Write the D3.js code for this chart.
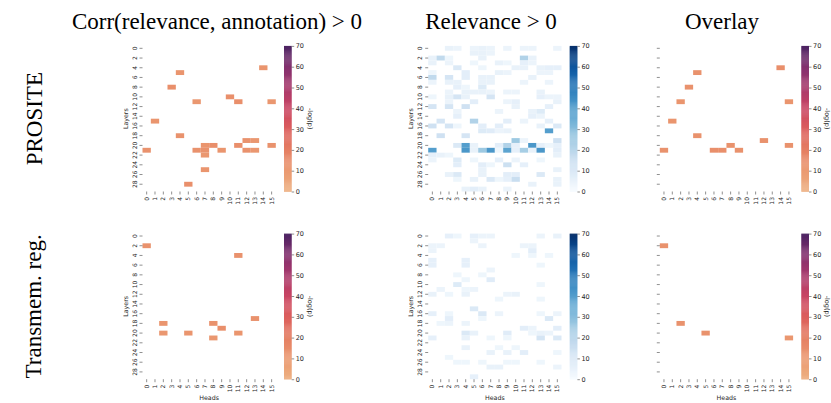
<!DOCTYPE html>
<html>
<head>
<meta charset="utf-8">
<script src="https://cdn.jsdelivr.net/npm/d3@7"></script>
<style>
  body { margin: 0; background: #fff; }
  svg text { fill: #262626; }
</style>
</head>
<body>
<svg id="fig" width="831" height="403"></svg>
<script>
'use strict';
// categories / tick labels
const heads = [0, 1, 2, 3, 4, 5, 6, 7, 8, 9, 10, 11, 12, 13, 14, 15];
const layers = [0, 1, 2, 3, 4, 5, 6, 7, 8, 9, 10, 11, 12, 13, 14, 15, 16, 17, 18, 19, 20, 21, 22, 23, 24, 25, 26, 27, 28, 29];
const layerTicks = [0, 2, 4, 6, 8, 10, 12, 14, 16, 18, 20, 22, 24, 26, 28];
const cbarTicks = [0, 10, 20, 30, 40, 50, 60, 70];
const colTitles = ['Corr(relevance, annotation) > 0', 'Relevance > 0', 'Overlay'];
const rowTitles = ['PROSITE', 'Transmem. reg.'];

// cells: [layer, head, -log(p)]
const prositeCorr = [
    [4, 14, 12], [5, 4, 12], [8, 3, 14], [10, 10, 14], [11, 6, 11], [11, 11, 14], [11, 15, 11],
    [15, 1, 12], [18, 4, 13], [19, 12, 13], [19, 13, 11], [20, 7, 12], [20, 8, 14], [20, 11, 14],
    [20, 15, 13], [21, 0, 13], [21, 6, 13], [21, 7, 13], [21, 9, 12], [21, 12, 13], [21, 13, 11],
    [22, 7, 11], [25, 7, 12], [28, 5, 14]
];
const prositeRel = [
    [0, 2, 5], [0, 3, 4], [0, 5, 4], [0, 6, 5], [0, 7, 4], [0, 9, 4], [0, 11, 4], [0, 12, 4], [0, 15, 4],
    [1, 5, 5], [1, 6, 5], [1, 7, 4],
    [2, 0, 5], [2, 1, 18], [2, 2, 3], [2, 6, 5], [2, 11, 22], [2, 12, 5],
    [3, 0, 5], [3, 2, 4], [3, 5, 3], [3, 8, 5], [3, 9, 3], [3, 11, 6], [3, 12, 4],
    [4, 3, 10], [4, 6, 3], [4, 10, 5], [4, 11, 5], [4, 13, 5], [4, 14, 6], [4, 15, 6],
    [5, 0, 3], [5, 4, 7], [5, 8, 5], [5, 9, 4], [5, 13, 4], [5, 14, 4],
    [6, 0, 18], [6, 2, 12], [6, 4, 7], [6, 6, 5], [6, 7, 5], [6, 12, 5],
    [7, 0, 4], [7, 2, 5], [7, 3, 5], [7, 6, 5], [7, 7, 5], [7, 11, 4], [7, 14, 4],
    [8, 3, 6], [8, 4, 3], [8, 6, 9],
    [9, 2, 4], [9, 4, 5], [9, 5, 5], [9, 6, 5], [9, 7, 4], [9, 9, 4], [9, 10, 4], [9, 13, 5],
    [10, 0, 3], [10, 2, 5], [10, 3, 12], [10, 4, 5], [10, 7, 12], [10, 13, 6], [10, 14, 4], [10, 15, 4],
    [11, 2, 4], [11, 5, 7], [11, 9, 4], [11, 10, 6], [11, 15, 5],
    [12, 0, 12], [12, 2, 12], [12, 4, 14], [12, 10, 5], [12, 14, 6],
    [13, 3, 4], [13, 8, 4], [13, 12, 5], [13, 13, 9],
    [14, 3, 6], [14, 12, 6], [14, 13, 4],
    [15, 1, 12], [15, 5, 22], [15, 9, 7], [15, 11, 4], [15, 14, 6],
    [16, 0, 14], [16, 2, 12], [16, 3, 3], [16, 6, 7], [16, 8, 7], [16, 13, 5], [16, 15, 10],
    [17, 6, 9], [17, 7, 8], [17, 8, 4], [17, 9, 5], [17, 14, 40],
    [18, 1, 14], [18, 4, 12],
    [19, 10, 26], [19, 11, 4], [19, 15, 14],
    [20, 3, 10], [20, 4, 40], [20, 5, 5], [20, 8, 7], [20, 9, 22], [20, 10, 6], [20, 12, 42], [20, 13, 6], [20, 14, 3], [20, 15, 6],
    [21, 0, 40], [21, 4, 42], [21, 5, 5], [21, 6, 26], [21, 7, 42], [21, 8, 3], [21, 9, 38], [21, 10, 6], [21, 11, 24], [21, 12, 5], [21, 13, 42], [21, 15, 7],
    [22, 0, 6], [22, 1, 5], [22, 2, 3], [22, 15, 5],
    [23, 0, 4], [23, 3, 9], [23, 5, 3], [23, 8, 6], [23, 10, 4], [23, 13, 3],
    [24, 3, 7], [24, 6, 7], [24, 7, 3], [24, 9, 15], [24, 11, 6],
    [25, 6, 5], [25, 15, 5],
    [26, 2, 5], [26, 3, 10], [26, 6, 5], [26, 9, 7], [26, 10, 7], [26, 13, 10],
    [27, 3, 3], [27, 5, 5], [27, 7, 10], [27, 8, 3], [27, 9, 6], [27, 10, 16], [27, 15, 5],
    [28, 12, 5], [28, 15, 5],
    [29, 4, 5], [29, 5, 7], [29, 6, 5], [29, 9, 4]
];
const prositeOverlay = [
    [4, 14, 14], [5, 4, 13], [8, 3, 13], [11, 2, 12], [11, 15, 12], [15, 1, 12], [18, 4, 13],
    [19, 12, 13], [20, 8, 13], [20, 15, 13], [21, 0, 13], [21, 6, 14], [21, 7, 14], [21, 9, 13]
];
const tmCorr = [
    [2, 0, 13], [4, 11, 13], [17, 13, 13], [18, 2, 12], [18, 8, 13], [19, 9, 14],
    [20, 2, 11], [20, 5, 12], [20, 11, 12], [21, 8, 11]
];
const tmRel = [
    [0, 2, 6], [0, 3, 3], [0, 5, 6], [0, 6, 4], [0, 7, 4], [0, 13, 4], [0, 15, 5],
    [1, 5, 4],
    [2, 0, 4], [2, 1, 4], [2, 6, 4], [2, 11, 4], [2, 12, 4],
    [3, 0, 4], [3, 12, 7],
    [4, 10, 3], [4, 12, 3], [4, 14, 3],
    [5, 0, 6], [5, 4, 6],
    [6, 0, 6], [6, 4, 6], [6, 13, 3],
    [7, 7, 4],
    [8, 3, 3], [8, 6, 3],
    [9, 4, 3], [9, 7, 8],
    [10, 3, 9], [10, 13, 3],
    [11, 1, 4], [11, 4, 3], [11, 5, 4],
    [12, 0, 5], [12, 2, 3], [12, 4, 5], [12, 9, 4], [12, 10, 5],
    [13, 8, 3], [13, 13, 3],
    [15, 5, 10],
    [16, 0, 6], [16, 2, 3], [16, 6, 10], [16, 8, 4], [16, 13, 3], [16, 15, 4],
    [17, 2, 7], [17, 6, 3], [17, 14, 10],
    [18, 1, 3], [18, 2, 4], [18, 4, 4],
    [19, 11, 7], [19, 12, 4], [19, 15, 7],
    [20, 4, 10], [20, 5, 5], [20, 9, 8], [20, 12, 3], [20, 13, 5], [20, 14, 4],
    [21, 0, 6], [21, 4, 5], [21, 7, 3], [21, 9, 3], [21, 13, 12], [21, 15, 10],
    [23, 4, 5], [23, 8, 3], [23, 10, 3],
    [24, 7, 5], [24, 9, 5], [24, 11, 7], [24, 15, 3],
    [25, 2, 3],
    [26, 3, 3], [26, 4, 3], [26, 6, 3], [26, 9, 3], [26, 10, 3], [26, 13, 3],
    [27, 7, 5], [27, 8, 5], [27, 15, 4],
    [29, 5, 6]
];
const tmOverlay = [[2, 0, 13], [18, 2, 13], [20, 5, 13], [21, 15, 11]];

// layout
const colLeft = [142.5, 428.2, 659.8];
const titleX = [217, 491, 722];
const rowTop = [45.9, 233.6];
const W = 133.3, H = 145.6;
const cbarGap = 141.5, cbarW = 7.7;

const flare = d3.scaleLinear()
    .domain([0, 10, 20, 30, 40, 50, 60, 70])
    .range(['#edb081', '#eb9a71', '#e57f63', '#dc5f5d', '#c94563', '#a93a6c', '#83306e', '#4b2362'])
    .clamp(true);
const blues = function(v) { return d3.interpolateBlues(Math.min(v, 70) / 70); };

const panels = [
    {row: 0, col: 0, cells: prositeCorr, cmap: flare, ylabels: true, cbarLabel: true},
    {row: 0, col: 1, cells: prositeRel, cmap: blues, ylabels: true, cbarLabel: false},
    {row: 0, col: 2, cells: prositeOverlay, cmap: flare, ylabels: false, cbarLabel: true},
    {row: 1, col: 0, cells: tmCorr, cmap: flare, ylabels: true, cbarLabel: true},
    {row: 1, col: 1, cells: tmRel, cmap: blues, ylabels: true, cbarLabel: false},
    {row: 1, col: 2, cells: tmOverlay, cmap: flare, ylabels: false, cbarLabel: true}
];

const svg = d3.select('#fig');
const x = d3.scaleBand().domain(heads).range([0, W]);
const y = d3.scaleBand().domain(layers).range([0, H]);
const cy = d3.scaleLinear().domain([0, 70]).range([H, 0]);

panels.forEach(function(p) {
    const g = svg.append('g')
        .attr('transform', 'translate(' + colLeft[p.col] + ',' + rowTop[p.row] + ')');

    g.selectAll('rect.cell')
        .data(p.cells)
        .enter().append('rect')
        .attr('class', 'cell')
        .attr('x', function(d) { return x(d[1]); })
        .attr('y', function(d) { return y(d[0]); })
        .attr('width', x.bandwidth())
        .attr('height', y.bandwidth())
        .attr('fill', function(d) { return p.cmap(d[2]); })
    ;

    // y axis
    const ya = g.append('g')
        .call(d3.axisLeft(y).tickValues(layerTicks).tickSize(3)
            .tickFormat(p.ylabels ? function(d) { return d; } : ''));
    ya.select('.domain').remove();
    ya.selectAll('.tick line').attr('stroke', '#444').attr('stroke-width', 0.6);
    ya.selectAll('.tick text')
        .attr('transform', 'rotate(-90)')
        .attr('x', 0)
        .attr('y', -6)
        .attr('dy', 0)
        .attr('text-anchor', 'middle')
        .style('font', '6px "DejaVu Sans"')
    ;

    // x axis
    const xa = g.append('g')
        .attr('transform', 'translate(0,' + H + ')')
        .call(d3.axisBottom(x).tickSize(3));
    xa.select('.domain').remove();
    xa.selectAll('.tick line').attr('stroke', '#444').attr('stroke-width', 0.6);
    xa.selectAll('.tick text')
        .attr('transform', 'rotate(-90)')
        .attr('x', -5.5)
        .attr('y', 0)
        .attr('dy', '0.35em')
        .attr('text-anchor', 'end')
        .style('font', '6px "DejaVu Sans"')
    ;

    if (p.ylabels) {
        g.append('text')
            .attr('transform', 'translate(-15,' + (H / 2) + ') rotate(-90)')
            .attr('text-anchor', 'middle')
            .style('font', '6.3px "DejaVu Sans"')
            .text('Layers');
    }
    if (p.row === 1) {
        g.append('text')
            .attr('x', W / 2)
            .attr('y', 166.6)
            .attr('text-anchor', 'middle')
            .style('font', '6.3px "DejaVu Sans"')
            .text('Heads');
    }

    // colorbar
    const cb = g.append('g').attr('transform', 'translate(' + cbarGap + ',0)');
    const steps = d3.range(0, 70, 0.5);
    cb.selectAll('rect')
        .data(steps)
        .enter().append('rect')
        .attr('x', 0)
        .attr('y', function(d) { return cy(d + 0.5); })
        .attr('width', cbarW)
        .attr('height', cy(0) - cy(0.5) + 0.3)
        .attr('fill', function(d) { return p.cmap(d + 0.25); })
    ;
    const ca = cb.append('g')
        .attr('transform', 'translate(' + cbarW + ',0)')
        .call(d3.axisRight(cy).tickValues(cbarTicks).tickSize(2.5).tickPadding(1.5));
    ca.select('.domain').remove();
    ca.selectAll('.tick line').attr('stroke', '#444').attr('stroke-width', 0.6);
    ca.selectAll('.tick text').style('font', '6.5px "DejaVu Sans"');
    if (p.cbarLabel) {
        cb.append('text')
            .attr('transform', 'translate(23.6,' + (H / 2) + ') rotate(90)')
            .attr('text-anchor', 'middle')
            .style('font', '6.5px "DejaVu Sans"')
            .text('-log(p)');
    }
});

// column and row titles
svg.selectAll('text.coltitle')
    .data(colTitles)
    .enter().append('text')
    .attr('class', 'coltitle')
    .attr('x', function(d, i) { return titleX[i]; })
    .attr('y', 28.5)
    .attr('text-anchor', 'middle')
    .style('font', '23px "Liberation Serif"')
    .style('fill', '#000')
    .text(function(d) { return d; })
;
svg.selectAll('text.rowtitle')
    .data(rowTitles)
    .enter().append('text')
    .attr('class', 'rowtitle')
    .attr('transform', function(d, i) { return 'translate(' + (i === 0 ? 42 : 40.5) + ',' + (rowTop[i] + H / 2) + ') rotate(-90)'; })
    .attr('text-anchor', 'middle')
    .style('font', '23px "Liberation Serif"')
    .style('fill', '#000')
    .text(function(d) { return d; })
;
</script>
</body>
</html>
